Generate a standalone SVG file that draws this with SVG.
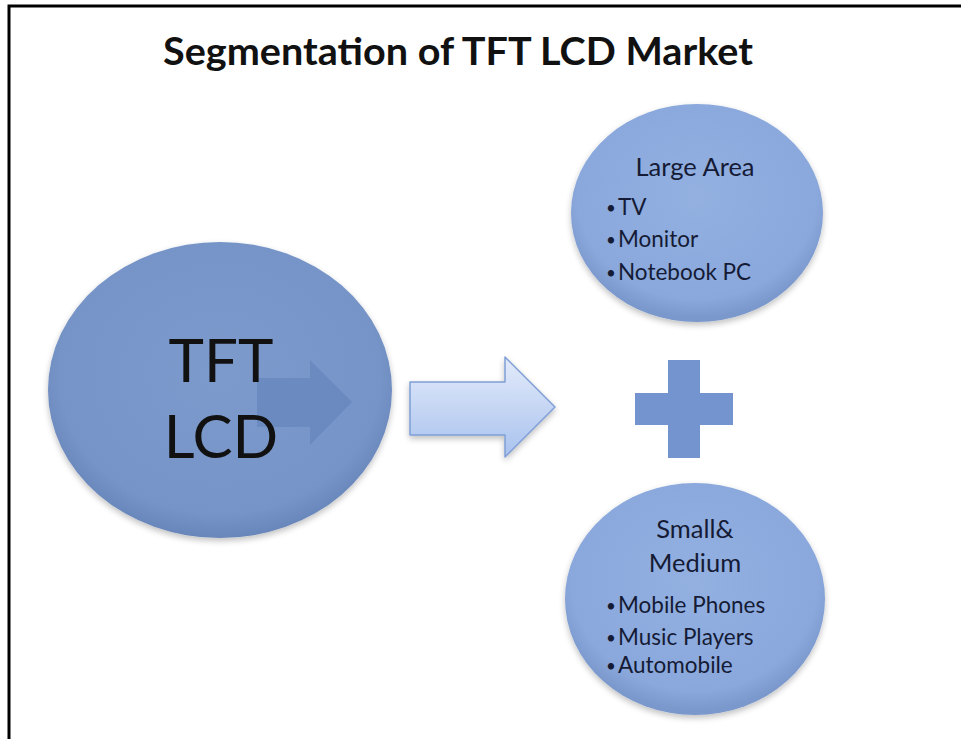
<svg xmlns="http://www.w3.org/2000/svg" width="961" height="739" viewBox="0 0 961 739">
<defs>
<style>
.t{font-family:Lato,"Open Sans","Liberation Sans",sans-serif;fill:#151b35}
.title{font-family:Lato,"Open Sans","Liberation Sans",sans-serif;font-weight:bold;font-size:38px;fill:#111}
.big{font-size:60px;fill:#111}
.hd{font-size:25.5px}
.li{font-size:22.5px}
.bu{font-size:17px}
</style>
<radialGradient id="gBig" cx="0.5" cy="0.45" r="0.55">
<stop offset="0" stop-color="#7c9acc"/>
<stop offset="0.85" stop-color="#7694c7"/>
<stop offset="1" stop-color="#6886ba"/>
</radialGradient>
<radialGradient id="gSm" cx="0.5" cy="0.42" r="0.56">
<stop offset="0" stop-color="#93b0e1"/>
<stop offset="0.85" stop-color="#8aa8dc"/>
<stop offset="1" stop-color="#7a98cc"/>
</radialGradient>
<linearGradient id="gArr" x1="0" y1="0" x2="0" y2="1">
<stop offset="0" stop-color="#e3ebfa"/>
<stop offset="1" stop-color="#a9c2ee"/>
</linearGradient>
<filter id="sh" x="-10%" y="-10%" width="120%" height="125%">
<feGaussianBlur in="SourceAlpha" stdDeviation="3"/>
<feOffset dx="0" dy="3"/>
<feComponentTransfer><feFuncA type="linear" slope="0.25"/></feComponentTransfer>
<feMerge><feMergeNode/><feMergeNode in="SourceGraphic"/></feMerge>
</filter>
</defs>
<rect width="961" height="739" fill="#fff"/>
<path d="M9,739 V6 H961" fill="none" stroke="#000" stroke-width="3"/>
<g id="title">
<text class="title" x="163" y="65" textLength="590" lengthAdjust="spacingAndGlyphs">Segmentation of TFT LCD Market</text>
</g>
<g id="node-tftlcd">
<ellipse cx="220" cy="390" rx="172" ry="148" fill="url(#gBig)" filter="url(#sh)"/>
<path d="M257,378 H310 V360 L352,402 L310,445 V427 H257 Z" fill="#6584ba" opacity="0.7"/>
<text class="t big" x="221" y="382" text-anchor="middle">TFT</text>
<text class="t big" x="221" y="458" text-anchor="middle">LCD</text>
</g>
<g id="connectors">
<path d="M410,382 H505 V357 L555,407 L505,457 V435 H410 Z" fill="url(#gArr)" stroke="#7f9fd6" stroke-width="1.5" stroke-linejoin="round" filter="url(#sh)"/>
</g>
<g id="plus">
<path d="M668,360 H700 V393 H733 V425 H700 V458 H668 V425 H635 V393 H668 Z" fill="#7494cf"/>
</g>
<g id="node-large">
<ellipse cx="697" cy="213" rx="126" ry="109" fill="url(#gSm)" filter="url(#sh)"/>
<text class="t hd" x="695" y="176" text-anchor="middle">Large Area</text>
<text class="t"><tspan class="bu" x="606" y="214">•</tspan><tspan class="li" x="618" y="215">TV</tspan></text>
<text class="t"><tspan class="bu" x="606" y="246">•</tspan><tspan class="li" x="618" y="247">Monitor</tspan></text>
<text class="t"><tspan class="bu" x="606" y="279">•</tspan><tspan class="li" x="618" y="280">Notebook PC</tspan></text>
</g>
<g id="node-small">
<ellipse cx="695" cy="599" rx="130" ry="116" fill="url(#gSm)" filter="url(#sh)"/>
<text class="t hd" x="695" y="538" text-anchor="middle">Small&amp;</text>
<text class="t hd" x="695" y="572" text-anchor="middle">Medium</text>
<text class="t"><tspan class="bu" x="606" y="612">•</tspan><tspan class="li" x="618" y="613">Mobile Phones</tspan></text>
<text class="t"><tspan class="bu" x="606" y="644">•</tspan><tspan class="li" x="618" y="645">Music Players</tspan></text>
<text class="t"><tspan class="bu" x="606" y="672">•</tspan><tspan class="li" x="618" y="673">Automobile</tspan></text>
</g>
</svg>
